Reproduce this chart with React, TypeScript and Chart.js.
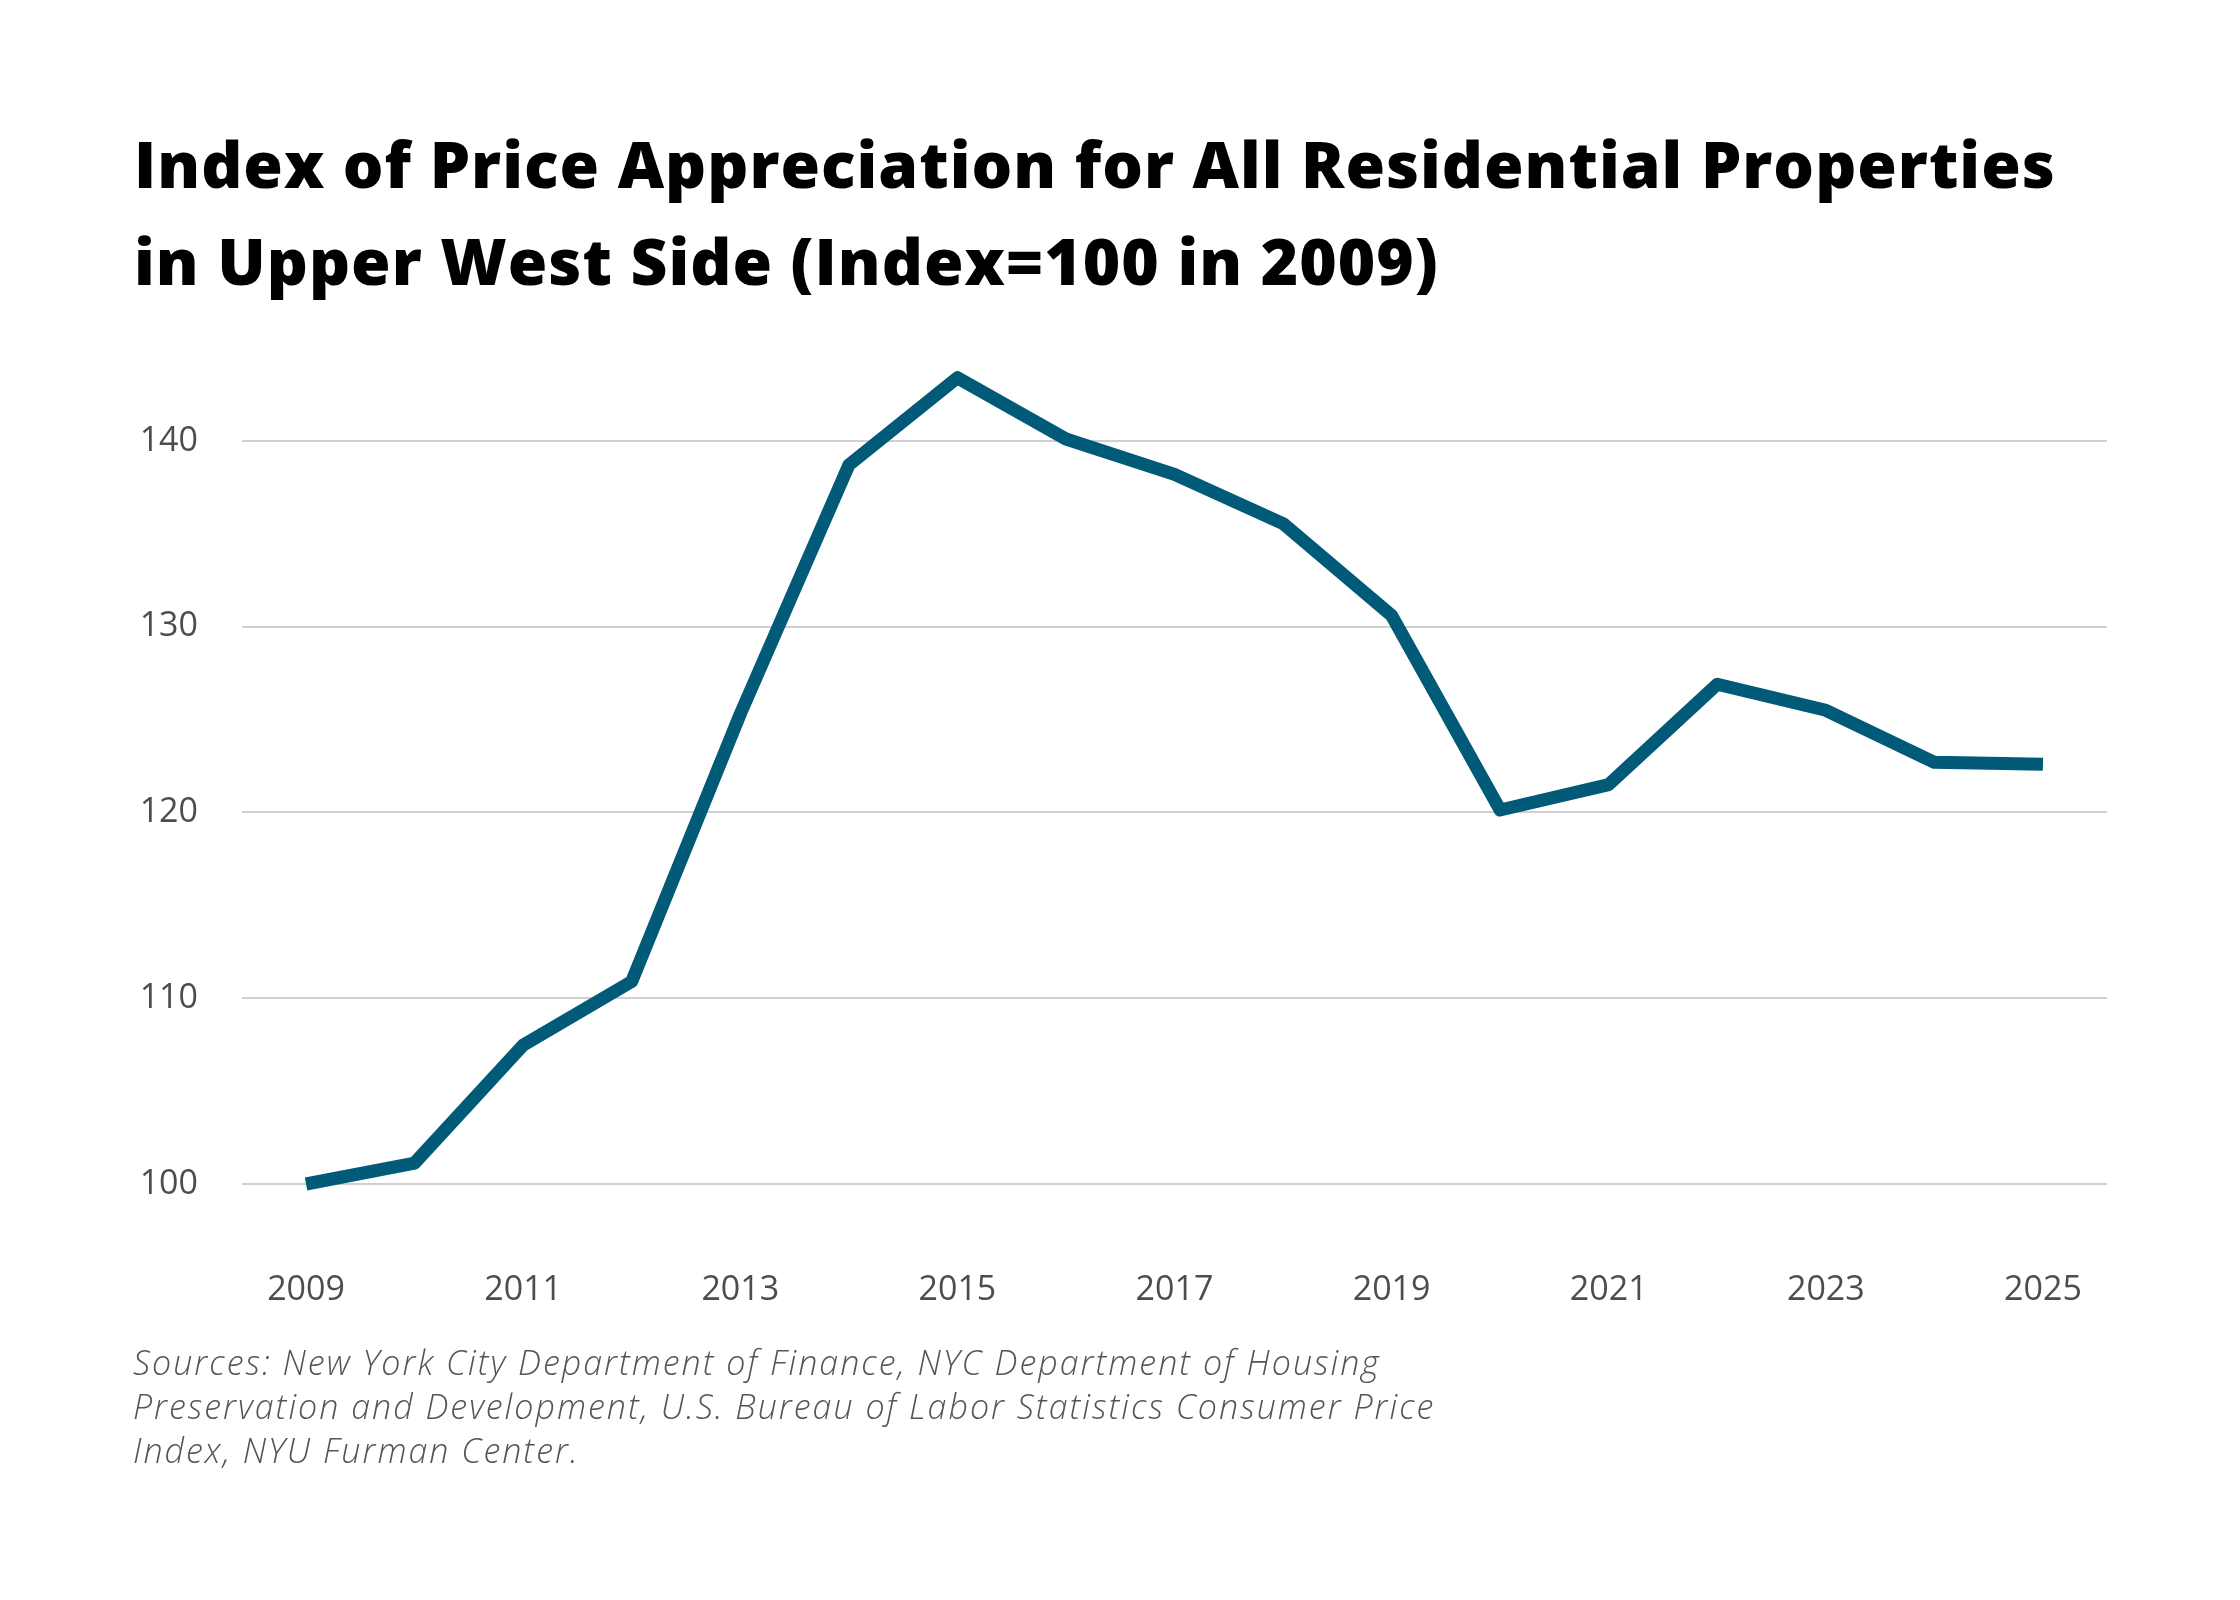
import React, { useEffect, useRef } from "react";
import { Chart, registerables } from "chart.js";

Chart.register(...registerables);

const years = [2009, 2010, 2011, 2012, 2013, 2014, 2015, 2016, 2017, 2018, 2019, 2020, 2021, 2022, 2023, 2024, 2025];
const indexValues = [100, 101.13, 107.48, 110.9, 125.3, 138.7, 143.4, 140.1, 138.2, 135.55, 130.6, 120.13, 121.5, 126.9, 125.5, 122.7, 122.6];
const xTickYears = [2009, 2011, 2013, 2015, 2017, 2019, 2021, 2023, 2025];
const yTickValues = [100, 110, 120, 130, 140];

const titleLines = [
  "Index of Price Appreciation for All Residential Properties",
  "in Upper West Side (Index=100 in 2009)",
];
const sourceLines = [
  "Sources: New York City Department of Finance, NYC Department of Housing",
  "Preservation and Development, U.S. Bureau of Labor Statistics Consumer Price",
  "Index, NYU Furman Center.",
];

const LINE_COLOR = "#005a78";
const TICK_COLOR = "#4d4d4d";
const GRID_COLOR = "#d0d0d0";
const TICK_FONT = "'Open Sans', Lato, sans-serif";

export default function App() {
  const canvasRef = useRef<HTMLCanvasElement | null>(null);

  useEffect(() => {
    document.body.style.margin = "0";
    const canvas = canvasRef.current;
    if (!canvas) return;
    const chart = new Chart(canvas, {
      type: "line",
      data: {
        datasets: [
          {
            data: years.map((y, i) => ({ x: y, y: indexValues[i] })),
            borderColor: LINE_COLOR,
            backgroundColor: LINE_COLOR,
            borderWidth: 13,
            pointRadius: 0,
            pointHoverRadius: 0,
            tension: 0,
            borderCapStyle: "butt",
            borderJoinStyle: "round",
            fill: false,
          },
        ],
      },
      options: {
        animation: false,
        responsive: false,
        devicePixelRatio: 1,
        layout: { padding: { top: 48, right: 133, bottom: 12.4, left: 0 } },
        plugins: {
          legend: { display: false },
          tooltip: { enabled: false },
          title: { display: false },
        },
        scales: {
          x: {
            type: "linear",
            min: 2008.41,
            max: 2025.59,
            grid: { display: false, drawTicks: false },
            border: { display: false },
            afterBuildTicks: (scale: any) => {
              scale.ticks = xTickYears.map((v) => ({ value: v }));
            },
            afterFit: (scale: any) => {
              scale.height = 60;
              scale.paddingLeft = 0;
              scale.paddingRight = 0;
            },
            ticks: {
              autoSkip: false,
              maxRotation: 0,
              padding: 2,
              color: TICK_COLOR,
              font: { family: TICK_FONT, size: 34 },
              callback: (v: any) => String(v),
            },
          },
          y: {
            type: "linear",
            min: 95.5,
            max: 145,
            grid: { color: GRID_COLOR, lineWidth: 2, drawTicks: false },
            border: { display: false },
            afterBuildTicks: (scale: any) => {
              scale.ticks = yTickValues.map((v) => ({ value: v }));
            },
            afterFit: (scale: any) => {
              scale.width = 242;
              scale.paddingTop = 0;
              scale.paddingBottom = 0;
            },
            ticks: {
              padding: 44,
              color: TICK_COLOR,
              font: { family: TICK_FONT, size: 34 },
              callback: (v: any) => String(v),
            },
          },
        },
      },
    });
    return () => chart.destroy();
  }, []);

  return (
    <div
      style={{
        position: "absolute",
        left: 0,
        top: 0,
        width: 2240,
        height: 1600,
        background: "#ffffff",
        overflow: "hidden",
      }}
    >
      <div
        style={{
          position: "absolute",
          left: 134,
          top: 115,
          fontFamily: "'Open Sans', Lato, sans-serif",
          fontWeight: 800,
          fontSize: 64,
          lineHeight: "97px",
          letterSpacing: "1px",
          color: "#000000",
          whiteSpace: "nowrap",
        }}
      >
        {titleLines.map((t, i) => (
          <div key={i}>{t}</div>
        ))}
      </div>
      <canvas
        ref={canvasRef}
        width={2240}
        height={1040}
        style={{ position: "absolute", left: 0, top: 300, width: 2240, height: 1040 }}
      />
      <div
        style={{
          position: "absolute",
          left: 133,
          top: 1340,
          fontFamily: "'Open Sans', sans-serif",
          fontStyle: "italic",
          fontWeight: 300,
          fontSize: 34,
          lineHeight: "44px",
          letterSpacing: "2px",
          color: "#555555",
          whiteSpace: "nowrap",
        }}
      >
        {sourceLines.map((t, i) => (
          <div key={i}>{t}</div>
        ))}
      </div>
    </div>
  );
}
